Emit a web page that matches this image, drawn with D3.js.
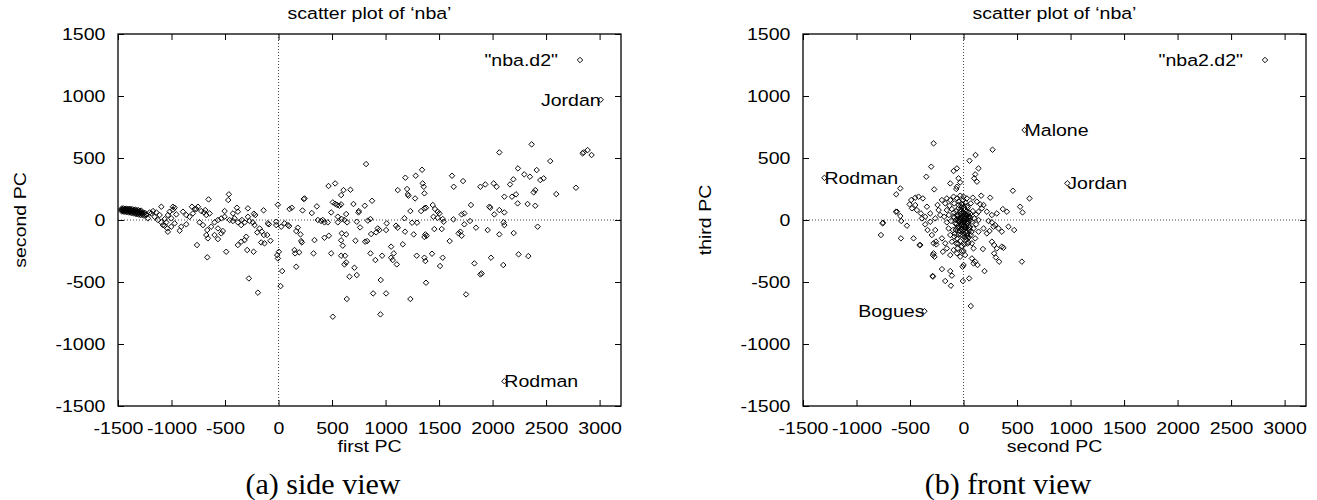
<!doctype html>
<html>
<head>
<meta charset="utf-8">
<style>
  body { margin: 0; background: #fff; }
  svg text { font-family: "Liberation Sans", Arial, sans-serif; fill: #000; }
  svg text.caption { font-family: "Liberation Serif", "Times New Roman", serif; }
</style>
<script src="https://d3js.org/d3.v7.min.js"></script>
</head>
<body>
<script>
// axis ranges and ticks (same for both panels)
var xDomain = [-1500, 3200];
var yDomain = [-1500, 1500];
var xTicks = [-1500, -1000, -500, 0, 500, 1000, 1500, 2000, 2500, 3000];
var yTicks = [-1500, -1000, -500, 0, 500, 1000, 1500];

// (a) side view: [first PC, second PC]
var sideView = [
  [-1470,82],[-1462,80],[-1455,84],[-1448,78],[-1440,80],[-1432,76],[-1425,82],[-1418,78],[-1410,74],[-1402,80],
  [-1395,72],[-1388,76],[-1380,70],[-1372,76],[-1365,68],[-1358,72],[-1350,66],[-1342,70],[-1335,62],[-1328,68],
  [-1320,60],[-1310,66],[-1300,58],[-1290,64],[-1280,54],[-1270,60],[-1260,50],[-1250,58],[-1240,46],
  [-1466,92],[-1452,94],[-1438,90],[-1424,92],[-1410,88],[-1396,90],[-1382,86],[-1368,88],[-1354,82],[-1340,84],
  [-1326,78],[-1312,80],[-1298,74],[-1284,76],[-1466,70],[-1450,68],[-1434,66],[-1418,64],[-1402,62],[-1386,60],
  [-1370,56],[-1354,54],[-1338,50],[-1322,48],[-1306,44],[-1290,40],[-1274,42],[-1258,36],
  [-1235,40],[-1220,13],[-1204,61],[-1189,53],[-1173,72],[-1158,26],[-1142,61],[-1127,0],[-1111,40],[-1095,107],
  [-1095,-19],[-1080,-41],[-1064,8],[-1064,-46],[-1049,-19],[-1039,-68],[-1034,-95],[-1033,40],[-1018,67],[-1002,13],
  [-1002,-54],[-987,107],[-987,83],[-971,99],[-971,-27],[-955,45],[-924,-86],[-909,-54],[-893,67],[-862,40],
  [-862,-35],[-831,26],[-809,107],[-800,53],[-784,88],[-769,88],[-762,-202],[-753,107],[-738,-19],[-722,72],
  [-706,-41],[-697,61],[-685,80],[-675,40],[-675,-121],[-666,-81],[-666,-301],[-660,-148],[-654,166],[-644,53],
  [-629,-54],[-598,-19],[-598,-121],[-566,0],[-566,-68],[-566,-154],[-535,13],[-535,-108],[-520,-89],[-504,26],
  [-504,72],[-489,-256],[-470,161],[-464,207],[-457,0],[-426,-8],[-426,53],[-411,13],[-389,99],[-380,67],
  [-380,-19],[-380,-202],[-349,-41],[-349,-175],[-342,0],[-317,-19],[-317,-162],[-302,-135],[-293,-242],[-286,94],
  [-286,26],[-277,-471],[-271,-8],[-240,-19],[-233,-256],[-230,51],[-224,-41],[-218,40],[-199,-100],[-193,-586],
  [-177,-68],[-162,-181],[-156,-94],[-140,78],[-137,-121],[-131,-188],[-106,-121],[-100,-27],[-90,-35],[-75,-167],
  [-22,-41],[-22,-14],[-12,-283],[-6,123],[-6,-310],[3,-256],[19,-533],[25,-54],[34,-412],[56,-27],
  [87,-41],[103,88],[99,-49],[124,99],[149,-242],[155,-269],[165,-89],[165,-377],[180,-62],[193,-261],
  [205,-116],[211,-170],[218,-181],[224,77],[236,169],[243,174],[311,56],[327,-269],[336,-162],[358,110],
  [367,0],[398,-8],[414,0],[429,-19],[429,-143],[460,-19],[467,274],[470,-127],[492,61],[492,-269],
  [507,142],[507,-780],[529,131],[529,295],[548,121],[554,27],[554,-19],[569,115],[585,126],[585,201],
  [585,-164],[585,-288],[591,8],[591,-108],[600,-207],[607,241],[616,0],[616,-358],[622,-288],[632,48],
  [632,-116],[632,-342],[638,-637],[641,-19],[663,-457],[672,244],[700,129],[709,-385],[719,-167],[731,-14],
  [731,-444],[747,61],[750,72],[762,-60],[806,115],[809,-175],[818,451],[828,-170],[834,-5],[859,8],
  [859,-269],[865,-113],[874,155],[884,-592],[905,-323],[912,-100],[927,-68],[943,-81],[952,-761],[955,-484],
  [968,-288],[1005,-81],[1005,-592],[1011,-27],[1052,-215],[1052,-304],[1067,-323],[1077,-269],[1098,-46],[1105,-358],
  [1114,241],[1114,-62],[1161,-196],[1176,14],[1182,-94],[1185,341],[1201,250],[1207,207],[1214,196],[1232,72],
  [1232,-637],[1248,-22],[1263,-116],[1276,174],[1282,357],[1291,-288],[1294,-22],[1332,72],[1341,405],[1347,295],
  [1357,268],[1363,215],[1363,94],[1363,-137],[1363,-304],[1372,-116],[1372,-331],[1378,99],[1378,-506],[1384,-127],
  [1434,-272],[1441,121],[1447,26],[1456,-73],[1462,88],[1487,67],[1487,18],[1503,53],[1509,-371],[1525,-73],
  [1534,8],[1534,-304],[1543,-14],[1599,-170],[1621,357],[1634,5],[1637,268],[1683,-108],
  [1699,-94],[1711,45],[1711,-127],[1724,314],[1736,53],[1736,-35],[1752,-600],[1789,-8],[1798,121],[1830,-350],
  [1845,-62],[1886,268],[1886,-439],[1898,-431],[1932,287],[1954,-81],[1970,107],[1979,99],[1985,-304],[2010,295],
  [2016,45],[2038,268],[2063,545],[2063,80],[2063,-116],[2100,-363],[2103,-19],[2110,188],[2110,61],[2110,-41],
  [2163,287],[2181,188],[2194,328],[2197,-105],[2219,207],[2234,134],[2237,416],[2243,-277],[2296,368],[2327,129],
  [2334,-291],[2349,349],[2365,610],[2384,223],[2399,241],[2399,115],[2412,403],[2421,-54],[2446,322],[2477,336],
  [2539,475],[2595,209],[2779,260],[2841,537],[2850,545],[2888,564],[2925,524]
];
var sideNamed = [["Jordan", 3010, 970], ["Rodman", 2110, -1300]];

// (b) front view: [second PC, third PC]
var frontView = [
  [-772,-121],[-756,-27],[-753,-22],[-632,67],[-629,207],[-622,67],[-591,255],[-591,32],[-585,-148],[-582,-8],
  [-529,-46],[-504,126],[-489,161],[-482,94],[-467,-148],[-451,180],[-451,121],[-436,80],[-420,188],[-411,-202],
  [-404,-202],[-398,53],[-389,13],[-380,174],[-358,26],[-358,-35],[-348,349],[-342,107],[-336,-81],[-311,53],
  [-311,-14],[-302,430],[-296,-121],[-289,-451],[-286,-283],[-286,-457],[-280,618],[-280,-188],[-280,-269],[-274,247],
  [-271,-296],[-264,13],[-264,-81],[-258,-174],[-255,-197],[-243,121],[-233,80],[-218,40],[-202,161],[-202,-148],
  [-202,-396],[-193,-256],[-181,26],[-171,134],[-171,-188],[-171,-492],[-156,174],[-156,80],[-156,-19],[-156,-229],
  [-140,-68],[-137,40],[-131,115],[-124,295],[-124,161],[-124,-121],[-124,-283],[-124,-412],[-118,-8],[-118,-530],
  [-109,88],[-109,-175],[-109,-449],[-99,-81],[-93,395],[-93,188],[-93,26],[-93,-242],[-87,134],[-87,-135],
  [-78,-27],[-68,250],[-68,72],[-68,-189],[-62,416],[-62,268],[-62,174],[-62,-62],[-62,-269],[-56,40],
  [-56,-229],[-47,336],[-47,121],[-47,-116],[-37,-14],[-31,303],[-31,196],[-31,67],[-31,-170],[-31,-296],
  [-21,-73],[-16,26],[-16,-250],[-9,-377],[-6,126],[-6,-127],[-6,-492],[0,188],[0,-19],[0,-363],
  [6,-197],[9,78],[15,-283],[19,-62],[25,34],[31,174],[31,-143],[37,115],[37,-27],[47,-181],
  [50,61],[53,-471],[56,478],[56,-81],[62,18],[68,134],[68,-121],[68,-694],[78,-14],[78,-188],
  [78,-310],[87,180],[87,72],[93,-68],[93,-229],[93,-350],[100,336],[100,13],[109,368],[109,-148],
  [109,-336],[112,524],[118,45],[118,-35],[125,309],[125,148],[131,-363],[140,416],[140,67],[140,0],
  [140,-94],[156,126],[165,196],[171,94],[181,-234],[187,121],[187,-68],[196,-412],[218,67],[218,-108],
  [233,-8],[243,-89],[249,180],[265,40],[265,-19],[265,-175],[271,567],[280,-54],[286,-202],[286,-269],
  [296,-41],[302,-302],[311,53],[311,-229],[327,-68],[333,-336],[358,-94],[358,-215],[367,88],[373,-224],
  [405,67],[420,-54],[461,236],[473,-81],[529,107],[545,-336],[551,61],[616,174],
  [-40,10],[-20,-40],[10,-10],[30,40],[-50,-60],[20,-100],[-10,60],[45,-45],[-70,0],[60,-5],
  [-35,-90],[5,95],[-80,-110],[25,-160],[-15,-210],[40,100],[-45,150],[15,-55],[-25,85],[55,30],
  [-60,-150],[35,-120],[-5,-85],[10,30],[-30,-30],[75,-95],[-90,60],[50,-140],[-20,130],[0,-250],
  [-10,0],[8,12],[-22,18],[20,-20],[-8,-30],[32,8],[-44,-12],[14,50],[-28,45],[40,-70],
  [-55,30],[-12,-60],[24,-40],[-38,-55],[48,15],[-65,-30],[2,-110],[-18,105],[28,70],[-48,95],
  [12,-140],[-72,-80],[58,-60],[-26,-120],[36,-190],[-84,20],[64,50],[-4,160],[18,140],[-52,-190],
  [-15,-15],[5,-45],[-32,5],[22,22],[-6,35],[44,-15],[-58,10],[10,-75],[-24,-75],[30,-95]
];
var frontNamed = [["Rodman", -1300, 340], ["Malone", 570, 725], ["Jordan", 970, 296], ["Bogues", -365, -735]];

var STRETCH = 1.15;
var plotTop = 34, plotW = 503, plotH = 372;

var svg = d3.select("body").append("svg")
    .attr("width", 1317)
    .attr("height", 500);

function addText(sel, x, y, str, anchor, rot) {
    return sel.append("text")
        .attr("transform", "translate(" + x + "," + y + ")" + (rot ? " rotate(" + rot + ")" : "") + " scale(" + STRETCH + ",1)")
        .attr("text-anchor", anchor)
        .attr("font-size", 17)
        .text(str);
}

var diamond = d3.symbol().type(d3.symbolSquare).size(15);
var plain = function(d) { return String(d); };

function drawPanel(cfg) {
    var g = svg.append("g")
        .attr("transform", "translate(" + cfg.left + "," + plotTop + ")");
    var x = d3.scaleLinear().domain(xDomain).range([0, plotW]);
    var y = d3.scaleLinear().domain(yDomain).range([plotH, 0]);

    // dotted zero axes
    g.append("line").attr("x1", x(0)).attr("x2", x(0)).attr("y1", 0).attr("y2", plotH)
        .attr("stroke", "#444").attr("stroke-width", 1).attr("stroke-dasharray", "1,2");
    g.append("line").attr("x1", 0).attr("x2", plotW).attr("y1", y(0)).attr("y2", y(0))
        .attr("stroke", "#444").attr("stroke-width", 1).attr("stroke-dasharray", "1,2");

    // axes with inward ticks on all four sides
    var bottom = g.append("g").attr("transform", "translate(0," + plotH + ")")
        .call(d3.axisBottom(x).tickValues(xTicks).tickFormat(plain).tickSizeInner(-6).tickSizeOuter(0).tickPadding(16));
    var left = g.append("g")
        .call(d3.axisLeft(y).tickValues(yTicks).tickFormat(plain).tickSizeInner(-6).tickSizeOuter(0).tickPadding(11));
    g.append("g")
        .call(d3.axisTop(x).tickValues(xTicks).tickSizeInner(-6).tickSizeOuter(0).tickFormat(function() { return ""; }));
    g.append("g").attr("transform", "translate(" + plotW + ",0)")
        .call(d3.axisRight(y).tickValues(yTicks).tickSizeInner(-6).tickSizeOuter(0).tickFormat(function() { return ""; }));
    g.selectAll(".domain").remove();
    g.selectAll(".tick line").attr("stroke", "#000");
    [bottom, left].forEach(function(a) {
        a.selectAll("text")
            .attr("font-size", 17)
            .attr("transform", "scale(" + STRETCH + ",1)");
    });

    // frame
    g.append("rect")
        .attr("width", plotW).attr("height", plotH)
        .attr("fill", "none").attr("stroke", "#000").attr("stroke-width", 1.3);

    // points
    g.selectAll(".pt")
        .data(cfg.points.concat(cfg.named.map(function(d) { return [d[1], d[2]]; })))
        .enter()
        .append("path")
            .attr("class", "pt")
            .attr("d", diamond)
            .attr("transform", function(d) { return "translate(" + x(d[0]) + "," + y(d[1]) + ") rotate(45)"; })
            .attr("fill", "none")
            .attr("stroke", "#000")
            .attr("stroke-width", 0.9);

    // named players
    cfg.named.forEach(function(d) {
        var anchor = cfg.rightAligned.indexOf(d[0]) >= 0 ? "end" : "start";
        addText(g, x(d[1]), y(d[2]) + 6, d[0], anchor);
    });

    // key
    addText(g, plotW - 63, 32, cfg.key, "end");
    g.append("path")
        .attr("d", diamond)
        .attr("transform", "translate(" + (plotW - 41) + ",26) rotate(45)")
        .attr("fill", "none").attr("stroke", "#000").attr("stroke-width", 0.9);

    // titles
    addText(g, plotW / 2, -15, "scatter plot of \u2018nba\u2019", "middle");
    addText(g, plotW / 2, plotH + 46, cfg.xLabel, "middle");
    addText(g, -92, plotH / 2, cfg.yLabel, "middle", -90);

    g.append("text")
        .attr("class", "caption")
        .attr("x", 205)
        .attr("y", 460)
        .attr("text-anchor", "middle")
        .attr("font-size", 30)
        .text(cfg.caption);
}

drawPanel({
    left: 118, points: sideView, named: sideNamed, rightAligned: ["Jordan"],
    key: "\"nba.d2\"", xLabel: "first PC", yLabel: "second PC", caption: "(a) side view"
});
drawPanel({
    left: 803, points: frontView, named: frontNamed, rightAligned: ["Bogues"],
    key: "\"nba2.d2\"", xLabel: "second PC", yLabel: "third PC", caption: "(b) front view"
});
</script>
</body>
</html>
